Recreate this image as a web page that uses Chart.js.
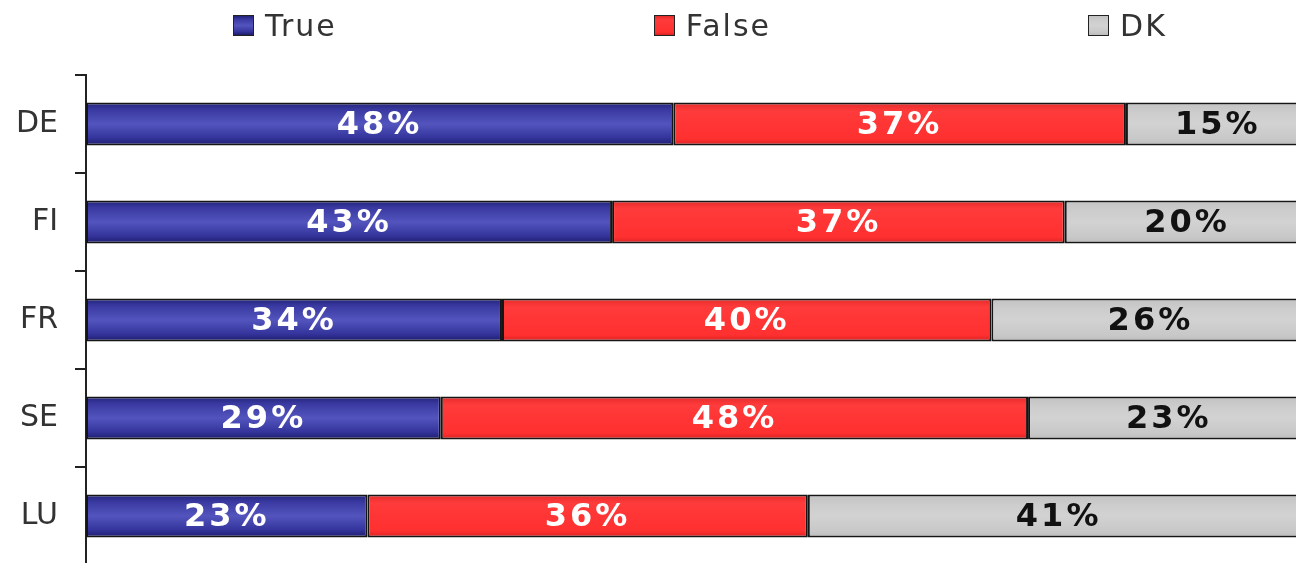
<!DOCTYPE html>
<html>
<head>
<meta charset="utf-8">
<script src="https://cdn.jsdelivr.net/npm/chart.js@4/dist/chart.umd.min.js"></script>
<style>
  html, body { margin: 0; padding: 0; background: #fff; overflow: hidden; }
  #wrap { position: relative; width: 1296px; height: 565px; }
  #legend {
    position: absolute; left: 233px; top: 8px;
    display: flex; gap: 317px; align-items: center;
    font-family: Verdana, "DejaVu Sans", sans-serif; font-size: 30px; color: #333;
    letter-spacing: 2px;
  }
  #legend .item { display: flex; align-items: center; }
  #legend .box { width: 19px; height: 19px; border: 1.5px solid #222; margin-right: 11px; }
  #myChart { display: block; }
</style>
</head>
<body>
<div id="wrap">
  <div id="legend"></div>
  <canvas id="myChart" width="1296" height="565"></canvas>
</div>
<script>
const categories = ['DE', 'FI', 'FR', 'SE', 'LU'];
const trueVals = [48, 43, 34, 29, 23];
const falseVals = [37, 37, 40, 48, 36];
const dkVals = [15, 20, 26, 23, 41];
const seriesNames = ['True', 'False', 'DK'];

// gradient stops per series (top -> bottom of a bar)
const shades = [
    [[0, '#22227a'], [0.18, '#3a3aa2'], [0.5, '#5454be'], [0.82, '#34349c'], [1, '#1c1c6c']],
    [[0, '#e42a2a'], [0.2, '#ff3b3b'], [0.5, '#ff3535'], [0.85, '#ff3030'], [1, '#d82222']],
    [[0, '#c2c2c2'], [0.25, '#cdcdcd'], [0.5, '#d2d2d2'], [0.85, '#c8c8c8'], [1, '#bcbcbc']]
];
const flat = ['#3c3ca6', '#ff3333', '#cccccc'];
const labelColors = ['#ffffff', '#ffffff', '#111111'];

let barGradient = function (si) {
    return function (c) {
        const chart = c.chart;
        const yScale = chart.scales.y;
        if (!chart.chartArea || !yScale || c.dataIndex === undefined) return flat[si];
        const cy = yScale.getPixelForValue(c.dataIndex);
        const half = (yScale.height / categories.length) * 0.44 / 2;
        const g = chart.ctx.createLinearGradient(0, cy - half, 0, cy + half);
        shades[si].forEach(s => g.addColorStop(s[0], s[1]));
        return g;
    };
};

const legendEl = document.getElementById('legend');
seriesNames.forEach((name, i) => {
    const item = document.createElement('div');
    item.className = 'item';
    const box = document.createElement('span');
    box.className = 'box';
    box.style.background = 'linear-gradient(' + shades[i].map(s => s[1] + ' ' + (s[0] * 100) + '%').join(',') + ')';
    const txt = document.createElement('span');
    txt.textContent = name;
    item.appendChild(box);
    item.appendChild(txt);
    legendEl.appendChild(item);
});

const valueLabels = {
    id: 'valueLabels',
    afterDatasetsDraw(chart) {
        const ctx = chart.ctx;
        ctx.save();
        ctx.font = 'bold 32px Verdana, "DejaVu Sans", sans-serif';
        ctx.letterSpacing = '3px';
        ctx.textAlign = 'center';
        ctx.textBaseline = 'middle';
        chart.data.datasets.forEach((ds, di) => {
            const meta = chart.getDatasetMeta(di);
            ctx.fillStyle = labelColors[di];
            meta.data.forEach((bar, i) => {
                const p = bar.getProps(['x', 'y', 'base'], true);
                ctx.fillText(ds.data[i] + '%', (p.x + p.base) / 2, p.y + 2);
            });
        });
        ctx.restore();
    }
};

const ctx = document.getElementById('myChart').getContext('2d');
const data = [trueVals, falseVals, dkVals];
const datasets = seriesNames.map((name, i) => ({
    label: name,
    data: data[i],
    backgroundColor: barGradient(i),
    borderColor: '#151515',
    borderWidth: 2,
    borderSkipped: false,
    barPercentage: 0.44,
    categoryPercentage: 1
}));

const chart = new Chart(ctx, {
    type: 'bar',
    data: { labels: categories, datasets: datasets },
    options: {
        indexAxis: 'y',
        responsive: false,
        animation: false,
        layout: { padding: { top: 75, left: 0, right: 0, bottom: 0 } },
        plugins: {
            legend: { display: false },
            tooltip: { enabled: false }
        },
        scales: {
            x: {
                stacked: true,
                min: 0,
                max: 98.9,
                display: false
            },
            y: {
                stacked: true,
                afterFit: function (scale) {
                    scale.width = 86;
                    scale.paddingTop = 0;
                    scale.paddingBottom = 0;
                },
                border: { display: true, color: '#222', width: 2 },
                grid: {
                    drawOnChartArea: false,
                    drawTicks: true,
                    tickLength: 11,
                    color: '#222',
                    lineWidth: 2
                },
                ticks: {
                    padding: 17,
                    color: '#333',
                    font: { family: 'Verdana, "DejaVu Sans", sans-serif', size: 30 }
                }
            }
        }
    },
    plugins: [valueLabels]
});
</script>
</body>
</html>
